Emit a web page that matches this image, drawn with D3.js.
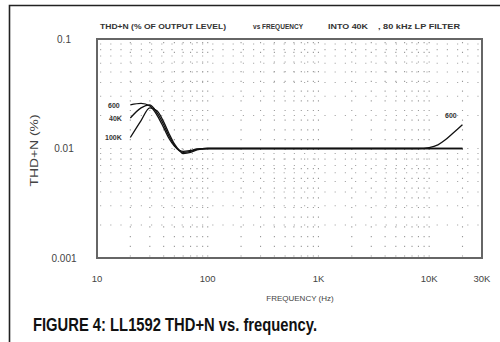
<!DOCTYPE html>
<html><head><meta charset="utf-8">
<script src="https://cdn.jsdelivr.net/npm/d3@7/dist/d3.min.js"></script>
<style>html,body{margin:0;padding:0;background:#fff;}svg{display:block;}</style>
</head><body>
<svg id="chart" width="500" height="342"></svg>
<script>
// ---- data ----
const seriesNames = ["600", "40K", "100K"];
const freqs = [20, 25, 30, 35, 40, 45, 50, 55, 60, 70, 80, 100, 200, 500, 1000, 2000, 5000, 8000, 10000, 12000, 14000, 16000, 18000, 20000];
const thd600  = [0.025, 0.0258, 0.0245, 0.020, 0.0155, 0.0122, 0.0105, 0.0097, 0.0094, 0.0096, 0.0099, 0.010, 0.010, 0.010, 0.010, 0.010, 0.010, 0.010, 0.0102, 0.0108, 0.0120, 0.0135, 0.0150, 0.0165];
const thd40k  = [0.019, 0.0235, 0.025, 0.021, 0.0165, 0.0128, 0.0107, 0.0096, 0.0092, 0.0094, 0.0098, 0.010, 0.010, 0.010, 0.010, 0.010, 0.010, 0.010, 0.010, 0.010, 0.010, 0.010, 0.010, 0.010];
const thd100k = [0.0126, 0.018, 0.0235, 0.022, 0.0175, 0.0135, 0.011, 0.0097, 0.009, 0.0092, 0.0097, 0.010, 0.010, 0.010, 0.010, 0.010, 0.010, 0.010, 0.010, 0.010, 0.010, 0.010, 0.010, 0.010];
const xTickValues = [10, 100, 1000, 10000, 30000];
const xTickLabels = ["10", "100", "1K", "10K", "30K"];
const yTickValues = [0.1, 0.01, 0.001];
const yTickLabels = ["0.1", "0.01", "0.001"];
const titleParts = ["THD+N (% OF OUTPUT LEVEL)", "vs FREQUENCY", "INTO  40K", ", 80 kHz LP FILTER"];
const xTitle = "FREQUENCY (Hz)";
const yTitle = "THD+N (%)";
const caption = "FIGURE 4: LL1592 THD+N vs. frequency.";

// ---- layout ----
const svg = d3.select("#chart");
const L = 97, R = 482, T = 39, B = 258;
const x = d3.scaleLog().domain([10, 30000]).range([L, R]);
const y = d3.scaleLog().domain([0.001, 0.1]).range([B, T]);

// outer frame
svg.append("path").attr("d", "M9.5,342 V5.5 H500")
  .attr("fill", "none").attr("stroke", "#222").attr("stroke-width", 1.6);

// dotted grid
const gridX = [];
for (let d = 10; d < 30000; d *= 10) for (let m = 1; m < 10; m++) { const v = d * m; if (v > 10 && v < 30000) gridX.push(v); }
const gridY = [];
for (let d = 0.001; d < 0.1 - 1e-9; d *= 10) for (let m = 1; m < 10; m++) { const v = d * m; if (v > 0.00100001 && v < 0.0999) gridY.push(v); }
const g = svg.append("g");
g.selectAll("line.gx").data(gridX).join("line")
  .attr("x1", d => x(d)).attr("x2", d => x(d)).attr("y1", T + 3).attr("y2", B)
  .attr("stroke", "#999").attr("stroke-width", 1.1).attr("stroke-dasharray", "1.2,8.5");
g.selectAll("line.gy").data(gridY).join("line")
  .attr("x1", L + 3).attr("x2", R).attr("y1", d => y(d)).attr("y2", d => y(d))
  .attr("stroke", "#aaa").attr("stroke-width", 1.1).attr("stroke-dasharray", "1.2,9");

// plot frame
svg.append("rect").attr("x", L).attr("y", T).attr("width", R - L).attr("height", B - T)
  .attr("fill", "none").attr("stroke", "#666").attr("stroke-width", 2);

// curves
const line = d3.line().x((d, i) => x(freqs[i])).y(d => y(d)).curve(d3.curveMonotoneX);
[thd600, thd40k, thd100k].forEach(s => {
  svg.append("path").attr("d", line(s)).attr("fill", "none")
    .attr("stroke", "#111").attr("stroke-width", 1.3);
});

// text helper
const lbl = { "font-family": "Liberation Sans, Arial, sans-serif", "font-size": "7px", "font-weight": "bold", "fill": "#333" };
function txt(sel, t, a) { const e = sel.append("text").text(t); Object.entries(Object.assign({}, lbl, a)).forEach(([k, v]) => e.attr(k, v)); return e; }
txt(svg, seriesNames[0], { x: 108, y: 107.5 });
txt(svg, seriesNames[1], { x: 109, y: 121 });
txt(svg, seriesNames[2], { x: 105, y: 140 });
txt(svg, seriesNames[0], { x: 445, y: 117.5 });

// title pieces
const tf = { "font-size": "6.5px", "fill": "#333" };
txt(svg, titleParts[0], Object.assign({ x: 100, y: 28.5, textLength: 126, lengthAdjust: "spacingAndGlyphs" }, tf));
txt(svg, titleParts[1], Object.assign({ x: 253, y: 28.5, textLength: 50, lengthAdjust: "spacingAndGlyphs" }, tf));
txt(svg, titleParts[2], Object.assign({ x: 328, y: 28.5, textLength: 40, lengthAdjust: "spacingAndGlyphs" }, tf));
txt(svg, titleParts[3], Object.assign({ x: 378, y: 28.5, textLength: 82, lengthAdjust: "spacingAndGlyphs" }, tf));

// axes labels
const ff = "Liberation Sans, Arial, sans-serif";
svg.append("g").selectAll("text").data(xTickValues).join("text")
  .attr("x", d => x(d)).attr("y", 282).attr("text-anchor", "middle")
  .attr("font-size", "9.5px").attr("font-family", ff).attr("fill", "#444")
  .text((d, i) => xTickLabels[i]);
svg.append("g").selectAll("text").data(yTickValues).join("text")
  .attr("x", 64).attr("y", d => y(d) + 3.5).attr("text-anchor", "middle")
  .attr("font-size", "10px").attr("font-family", ff).attr("fill", "#444")
  .text((d, i) => yTickLabels[i]);
svg.append("text").attr("x", 300).attr("y", 301).attr("text-anchor", "middle")
  .attr("font-size", "8px").attr("font-family", ff).attr("fill", "#444").text(xTitle);
svg.append("text").attr("transform", "translate(37.5,150.5) rotate(-90)").attr("text-anchor", "middle")
  .attr("font-size", "11px").attr("font-family", ff).attr("fill", "#444")
  .attr("textLength", 72).attr("lengthAdjust", "spacingAndGlyphs").text(yTitle);

// caption
svg.append("text").attr("x", 33).attr("y", 331).attr("font-size", "18px").attr("font-weight", "bold")
  .attr("font-family", ff).attr("fill", "#111")
  .attr("textLength", 284).attr("lengthAdjust", "spacingAndGlyphs").text(caption);
</script>
</body></html>
